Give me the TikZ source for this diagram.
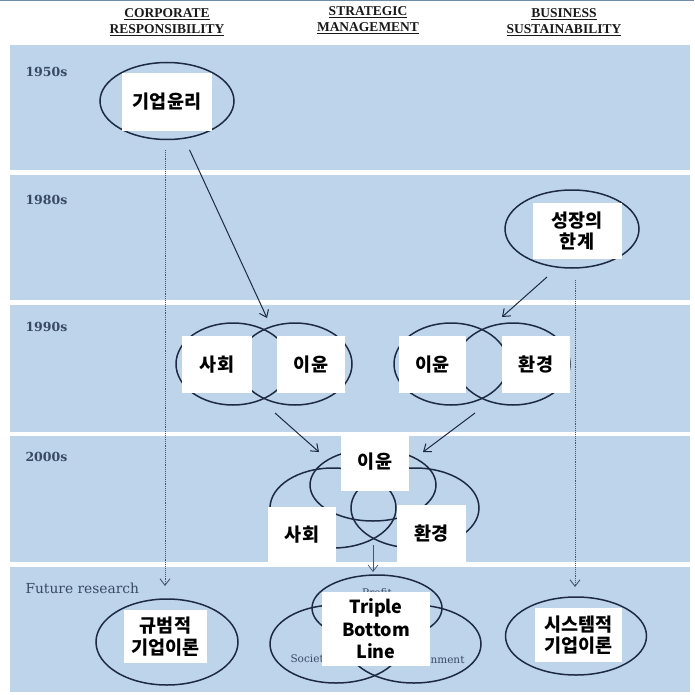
\documentclass[tikz,border=0pt]{standalone}
\usepackage{fontspec}
\setmainfont{Liberation Serif}
\newfontfamily\kr{Noto Sans CJK KR}
\newfontfamily\yr{DejaVu Serif}
\usetikzlibrary{shapes.geometric,arrows.meta}
\definecolor{band}{HTML}{BDD4EB}
\definecolor{ink}{HTML}{1E2A44}
\definecolor{yrc}{HTML}{3A4964}
\definecolor{dotc}{HTML}{44536E}
\definecolor{topline}{HTML}{6F8CA8}
\begin{document}
\begin{tikzpicture}[x=1pt,y=-1pt,
  ell/.style={ellipse,draw=ink,line width=1.5pt,inner sep=0pt},
  wbox/.style={fill=white,inner sep=0pt,align=center,text=black,
    font=\kr\bfseries\fontsize{18.5}{21.5}\selectfont},
  yearlbl/.style={anchor=west,font=\yr\bfseries\fontsize{12.5}{14}\selectfont,text=yrc},
  hdr/.style={font=\bfseries\fontsize{13.5}{16}\selectfont,text=black!90,align=center},
  faint/.style={font=\yr\fontsize{10.5}{12}\selectfont,text=yrc},
  arr/.style={draw=ink,line width=1pt,-{Straight Barb[length=6.5pt,width=10pt]}},
  dotarr/.style={draw=dotc,line width=0.9pt,densely dotted,-{Straight Barb[length=6.5pt,width=10pt]}},
  thinarr/.style={draw=dotc,line width=0.7pt,-{Straight Barb[length=6.5pt,width=10pt]}}]
\useasboundingbox (0,0) rectangle (694,695);
\fill[white] (0,0) rectangle (694,695);
\fill[topline] (0,0) rectangle (694,1.5);
% bands
\fill[band] (10,45) rectangle (690,170);
\fill[band] (10,175) rectangle (690,300);
\fill[band] (10,305) rectangle (690,432);
\fill[band] (10,436) rectangle (690,562);
\fill[band] (10,567) rectangle (690,692);
% headers
\node[hdr] (h1) at (167,22) {\underline{CORPORATE}\\\underline{RESPONSIBILITY}};
\node[hdr] (h2) at (368,20) {\underline{STRATEGIC}\\\underline{MANAGEMENT}};
\node[hdr] (h3) at (564,22) {\underline{BUSINESS}\\\underline{SUSTAINABILITY}};
% year labels
\node[yearlbl] (y1) at (22,72) {1950s};
\node[yearlbl] (y2) at (22,200) {1980s};
\node[yearlbl] (y3) at (22,327) {1990s};
\node[yearlbl] (y4) at (22,457) {2000s};
\node[yearlbl,font=\yr\fontsize{13.8}{15}\selectfont] (y5) at (22,588) {Future research};
% 1950s
\node[ell,minimum width=134pt,minimum height=77pt] (e1) at (167,101) {};
\node[wbox,minimum width=90pt,minimum height=58pt] (t1) at (167,102) {기업윤리};
% 1980s
\node[ell,minimum width=134pt,minimum height=78pt] (e2) at (572,229) {};
\node[wbox,minimum width=89pt,minimum height=56pt] (t2) at (577,231) {성장의\\한계};
% 1990s
\node[ell,minimum width=114pt,minimum height=82pt] (a1) at (233,364) {};
\node[ell,minimum width=114pt,minimum height=82pt] (a2) at (295,364) {};
\node[ell,minimum width=114pt,minimum height=82pt] (b1) at (451,364) {};
\node[ell,minimum width=114pt,minimum height=82pt] (b2) at (513,364) {};
\node[wbox,minimum width=70pt,minimum height=57pt] (ta1) at (217,364.5) {사회};
\node[wbox,minimum width=68pt,minimum height=57pt] (ta2) at (311,364.5) {이윤};
\node[wbox,minimum width=67pt,minimum height=57pt] (tb1) at (432.5,364.5) {이윤};
\node[wbox,minimum width=68pt,minimum height=57pt] (tb2) at (536,364.5) {환경};
% 2000s
\node[ell,minimum width=126pt,minimum height=72pt] (c1) at (373,485) {};
\node[ell,minimum width=126pt,minimum height=80pt] (c2) at (333,508) {};
\node[ell,minimum width=128pt,minimum height=80pt] (c3) at (415,508) {};
\node[wbox,minimum width=68pt,minimum height=58pt] (tc1) at (375,462) {이윤};
\node[wbox,minimum width=68pt,minimum height=55pt] (tc2) at (302,534.5) {사회};
\node[wbox,minimum width=69pt,minimum height=57pt] (tc3) at (431.5,533.5) {환경};
% Future: triple bottom line
\node[ell,minimum width=130pt,minimum height=66pt] (d1) at (377,608) {};
\node[ell,minimum width=132pt,minimum height=78pt] (d2) at (336,644) {};
\node[ell,minimum width=134pt,minimum height=78pt] (d3) at (414,644) {};
\node[faint] (pf) at (377,593) {Profit};
\node[faint,anchor=west] (so) at (287,660) {Society};
\node[faint,anchor=east] (en) at (468,660) {Environment};
\node[wbox,minimum width=108pt,minimum height=74pt,font=\kr\bfseries\fontsize{18}{22.5}\selectfont] (td) at (376,629) {Triple\\Bottom\\Line};
% Future: left and right
\node[ell,minimum width=142pt,minimum height=86pt] (f1) at (167,642) {};
\node[wbox,minimum width=83pt,minimum height=53pt] (tf1) at (165.5,636.5) {규범적\\기업이론};
\node[ell,minimum width=141pt,minimum height=78pt] (f2) at (576,636) {};
\node[wbox,minimum width=87pt,minimum height=54pt] (tf2) at (578.5,635) {시스템적\\기업이론};
% connector coordinates
\coordinate (xa) at (267,318);
\coordinate (s2) at (547,277);
\coordinate (xb) at (502,317);
\coordinate (dl1) at (165,150);
\coordinate (dl2) at (165,586);
\coordinate (dr1) at (575,280);
\coordinate (dr2) at (575,587);
\coordinate (sa) at (275,413);
\coordinate (ea) at (319,452);
\coordinate (sb) at (475,413);
\coordinate (eb) at (423,452);
\coordinate (sc) at (373,545);
\coordinate (ec) at (373,572);
% connectors
\draw[arr,shorten <=12pt] (e1) -- (xa);
\draw[arr] (s2) -- (xb);
\draw[dotarr] (dl1) -- (dl2);
\draw[dotarr] (dr1) -- (dr2);
\draw[arr] (sa) -- (ea);
\draw[arr] (sb) -- (eb);
\draw[thinarr] (sc) -- (ec);
\end{tikzpicture}
\end{document}
